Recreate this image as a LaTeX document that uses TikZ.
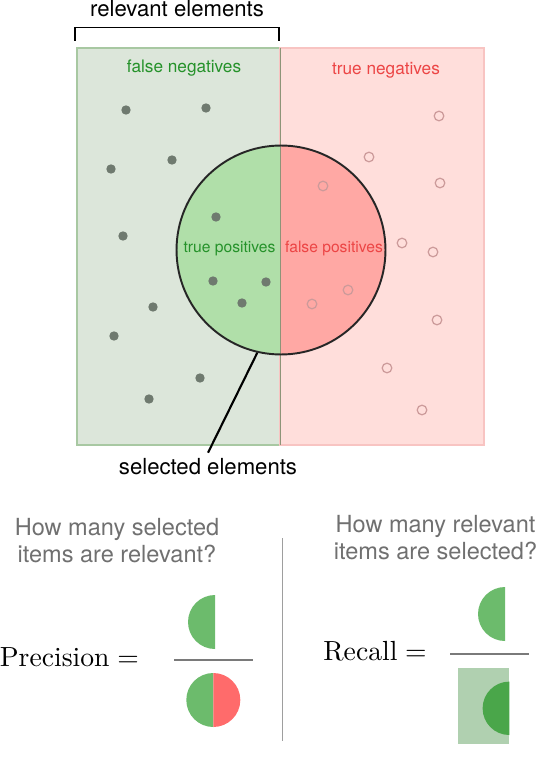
\documentclass[tikz,border=0pt]{standalone}
\usepackage{graphicx}
\usepackage{fontspec}
\setsansfont{TeX Gyre Heros}
\usetikzlibrary{positioning}

\definecolor{fnfill}{HTML}{DCE6DA}
\definecolor{fnline}{HTML}{A8C8A2}
\definecolor{tnfill}{HTML}{FFDEDB}
\definecolor{tnline}{HTML}{F8C4C2}
\definecolor{tpfill}{HTML}{B0DFA9}
\definecolor{fpfill}{HTML}{FFA8A4}
\definecolor{goodtext}{HTML}{25922A}
\definecolor{badtext}{HTML}{EC4545}
\definecolor{hitcol}{HTML}{6F7A6F}
\definecolor{misscol}{HTML}{CC9A9A}
\definecolor{askcol}{HTML}{707070}
\definecolor{midgreen}{HTML}{6CBB6C}
\definecolor{midred}{HTML}{FF6B6B}
\definecolor{darkgreen}{HTML}{4AA64A}
\definecolor{paleblock}{HTML}{B0D0B0}
\definecolor{seam}{HTML}{8E9478}

\begin{document}
\begin{tikzpicture}[
  x=0.02cm, y=-0.02cm,
  font=\sffamily,
  relbox/.style={draw=fnline,fill=fnfill,line width=0.6pt},
  negbox/.style={draw=tnline,fill=tnfill,line width=0.6pt},
  part/.style={inner sep=0pt,anchor=base,font=\sffamily\fontsize{9.8}{12}\selectfont},
  inpart/.style={inner sep=0pt,anchor=base,font=\sffamily\fontsize{8.9}{11}\selectfont},
  big/.style={inner sep=0pt,anchor=base,font=\sffamily\fontsize{12.6}{15}\selectfont},
  ask/.style={inner sep=0pt,anchor=north,align=center,text=askcol,
    font=\sffamily\fontsize{13.4}{15.1}\selectfont},
  eqn/.style={inner sep=0pt,anchor=base west,font=\normalfont\fontsize{10}{12}\selectfont},
  fracline/.style={draw=black!52,line width=1.1pt},
  selcircle/.style={circle,draw=black!85,line width=1.1pt,minimum size=4.18cm,inner sep=0pt}]

\useasboundingbox (0,0) rectangle (550,763);

% --- the two halves: relevant (left) and not relevant (right) ---
\draw[relbox] (77,48) rectangle (280,445);
\draw[negbox] (280,48) rectangle (484,445);

% --- bracket over the relevant half ---
\draw[line width=1pt] (75,41) -- (75,27.5) -- (279,27.5) -- (279,41);
\node[big] (relevant) at (177,16.5) {relevant elements};

\node[part,text=goodtext] (fn) at (184,72.5) {false negatives};
\node[part,text=badtext] (tn) at (386,74.5) {true negatives};

% --- selected elements: circle split in two ---
\begin{scope}
  \clip (170,140) rectangle (280.5,360);
  \fill[tpfill] (281,250) circle (104.5);
\end{scope}
\begin{scope}
  \clip (280.5,140) rectangle (392,360);
  \fill[fpfill] (281,250) circle (104.5);
\end{scope}
\draw[draw=seam,line width=0.6pt] (280.5,48) -- (280.5,445);
\node[selcircle] (sel) at (281,250) {};

\node[inpart,text=goodtext] (tp) at (229.5,253) {true positives};
\node[inpart,text=badtext] (fp) at (334,253) {false positives};

% --- items: filled = relevant, open = not relevant ---
\foreach \x/\y in {126/110, 206/108, 111/169, 172/160, 123/236, 216/217,
                   213/281, 242/303, 266/282, 153/307, 114/336, 200/378, 149/399}
  \fill[hitcol] (\x,\y) circle (4.7);
\foreach \x/\y in {439/116, 369/157, 323/186, 440/183, 402/243, 433/252,
                   348/290, 312/304, 437/320, 387/368, 422/410}
  \draw[misscol,line width=0.7pt] (\x,\y) circle (4.8);

% --- pointer to the label ---
\node[big,inner sep=3pt] (sellabel) at (208,474.5) {selected elements};
\draw[line width=1.2pt] (sel.257) -- (sellabel.north);

% --- precision ---
\node[ask] (askprec) at (117,518) {How many selected\\items are relevant?};
\node[eqn] (prec) at (-0.5,666.5) {\scalebox{1.575}{$\mathrm{Precision}=$}};
\draw[fracline] (174,660) -- (253,660);
\begin{scope}
  \clip (180,590) rectangle (215,655);
  \fill[midgreen] (215,622) circle (27);
\end{scope}
\begin{scope}
  \clip (180,668) rectangle (213.3,732);
  \fill[midgreen] (213.3,700) circle (27);
\end{scope}
\begin{scope}
  \clip (213.3,668) rectangle (245,732);
  \fill[midred] (213.3,700) circle (27);
\end{scope}

% --- divider ---
\draw[draw=black!38,line width=0.9pt] (282.7,538) -- (282.7,741);

% --- recall ---
\node[ask] (askrec) at (435.5,515) {How many relevant\\items are selected?};
\node[eqn] (rec) at (323,660) {\scalebox{1.575}{$\mathrm{Recall}=$}};
\draw[fracline] (450,654) -- (529,654);
\begin{scope}
  \clip (470,580) rectangle (505,650);
  \fill[midgreen] (505,614) circle (27);
\end{scope}
\fill[paleblock] (458.3,668.3) rectangle (509.3,744.3);
\begin{scope}
  \clip (470,675) rectangle (509.3,740);
  \fill[darkgreen] (509.3,708.3) circle (26.7);
\end{scope}

\end{tikzpicture}
\end{document}
